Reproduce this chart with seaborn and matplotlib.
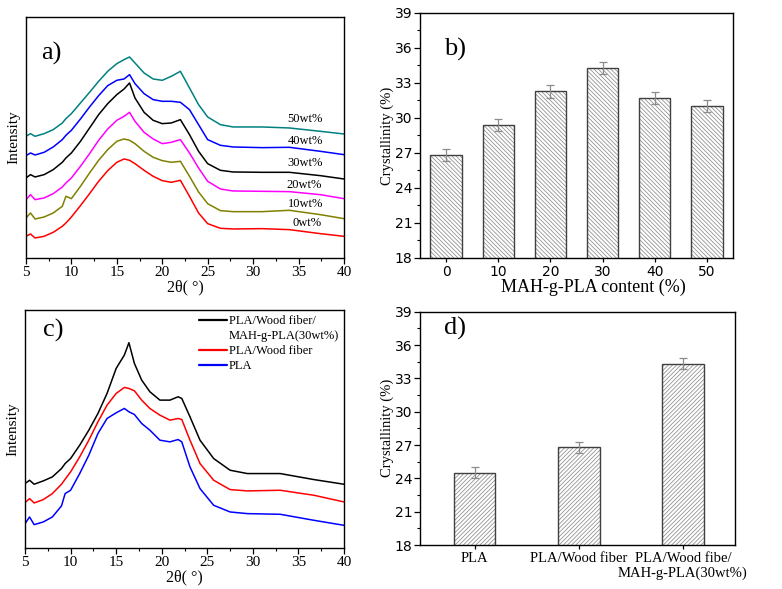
import numpy as np
import pandas as pd
import matplotlib
matplotlib.use("Agg")
import matplotlib.pyplot as plt
import seaborn as sns
from matplotlib.ticker import MultipleLocator, NullLocator
from matplotlib.patches import Rectangle
from matplotlib.lines import Line2D

# ---------------- Data: panel a (XRD, MAH-g-PLA content series, offset stacked) ----------------
two_theta_a = [5, 5.5, 6, 7, 8, 9, 9.4, 10, 11, 12, 13, 14, 15, 15.8, 16.4, 17, 18, 19, 20,
               21, 22, 23, 24, 25, 26.4, 27.8, 31, 34, 37.4, 40]
int_0wt = [65, 72, 60, 65, 77, 95, 105, 123, 157, 193, 230, 262, 287, 297, 293, 283, 263, 245, 232,
           227, 233, 185, 135, 103, 89, 87, 88, 85, 73, 65]
int_10wt = [120, 135, 117, 123, 135, 155, 185, 178, 215, 255, 293, 325, 350, 357, 353, 343, 320, 302, 292,
            287, 290, 245, 198, 163, 142, 139, 139, 143, 130, 118]
int_20wt = [175, 190, 175, 180, 193, 213, 225, 240, 275, 313, 353, 387, 413, 425, 437, 410, 377, 357, 343,
            347, 355, 315, 270, 230, 207, 201, 200, 199, 190, 178]
int_30wt = [240, 250, 243, 250, 265, 287, 300, 315, 350, 390, 430, 463, 490, 507, 525, 480, 437, 413, 403,
            405, 415, 370, 320, 283, 263, 258, 257, 257, 247, 237]
int_40wt = [307, 315, 309, 317, 333, 355, 368, 383, 417, 453, 487, 517, 533, 537, 550, 523, 493, 475, 470,
            470, 467, 445, 400, 355, 338, 333, 331, 332, 320, 310]
int_50wt = [365, 373, 365, 373, 385, 405, 418, 433, 465, 497, 530, 560, 583, 595, 603, 585, 555, 537, 533,
            545, 560, 510, 460, 423, 400, 393, 393, 390, 380, 372]
samples_a = ["0wt%", "10wt%", "20wt%", "30wt%", "40wt%", "50wt%"]
colors_a = ["#ff0000", "#808000", "#ff00ff", "#000000", "#0000ff", "#008080"]

# ---------------- Data: panel b ----------------
content_b = ["0", "10", "20", "30", "40", "50"]
cryst_b = [26.8, 29.4, 32.3, 34.3, 31.7, 31.0]
err_b = [0.5, 0.55, 0.55, 0.5, 0.5, 0.5]

# ---------------- Data: panel c (XRD comparison) ----------------
two_theta_c = [5, 5.5, 6, 7, 8, 9, 9.4, 10, 11, 12, 13, 14, 15, 15.9, 16.4, 17, 17.8, 18.7, 19.8,
               20.9, 21.8, 22.2, 23.1, 24.2, 25.7, 27.5, 29.4, 33, 36.7, 40]
int_pla = [73, 93, 70, 78, 93, 126, 163, 173, 223, 278, 343, 388, 405, 418, 408, 400, 373, 353, 323,
           318, 325, 318, 243, 178, 128, 108, 103, 101, 83, 68]
int_pla_wf = [136, 148, 135, 145, 163, 191, 206, 228, 273, 323, 378, 428, 463, 481, 478, 471, 443, 418, 398,
              383, 388, 385, 323, 253, 203, 175, 171, 173, 158, 138]
int_pla_wf_mah = [193, 203, 191, 201, 213, 238, 253, 268, 308, 353, 403, 463, 538, 578, 615, 553, 503, 468, 443,
                  443, 453, 448, 393, 323, 268, 233, 223, 223, 205, 191]
samples_c = ["PLA/Wood fiber/\nMAH-g-PLA(30wt%)", "PLA/Wood fiber", "PLA"]
colors_c = ["#000000", "#ff0000", "#0000ff"]

# ---------------- Data: panel d ----------------
names_d = ["PLA", "PLA/Wood fiber", "PLA/Wood fibe/\nMAH-g-PLA(30wt%)"]
cryst_d = [24.5, 26.8, 34.3]
err_d = [0.5, 0.5, 0.5]

# ---------------- Style ----------------
sns.set_theme(style="ticks")
plt.rcParams["font.family"] = ["Liberation Serif", "DejaVu Serif"]
plt.rcParams["axes.edgecolor"] = "black"
plt.rcParams["axes.linewidth"] = 1.0
plt.rcParams["text.color"] = "black"
plt.rcParams["axes.labelcolor"] = "black"
plt.rcParams["xtick.color"] = "black"
plt.rcParams["ytick.color"] = "black"
plt.rcParams["hatch.linewidth"] = 0.55

SERIF = ["Liberation Serif", "DejaVu Serif"]
SANS = ["DejaVu Sans"]

fig = plt.figure(figsize=(7.82, 5.89), dpi=100)
fig.patch.set_facecolor("white")

ax_a = fig.add_axes([0.0332, 0.5620, 0.4066, 0.4092])
ax_b = fig.add_axes([0.5371, 0.5620, 0.4003, 0.4160])
ax_c = fig.add_axes([0.0320, 0.0696, 0.4079, 0.4041])
ax_d = fig.add_axes([0.5375, 0.0747, 0.4024, 0.3961])


def xrd_axes(ax):
    ax.set_xlim(5, 40)
    ax.xaxis.set_major_locator(MultipleLocator(5))
    ax.xaxis.set_minor_locator(MultipleLocator(2.5))
    ax.yaxis.set_major_locator(NullLocator())
    ax.yaxis.set_minor_locator(NullLocator())
    ax.tick_params(axis="x", which="major", direction="out", length=4, width=0.9,
                   labelsize=11, pad=2, top=False)
    ax.tick_params(axis="x", which="minor", direction="out", length=2, width=0.8, top=False)
    for lab in ax.get_xticklabels():
        lab.set_family(SERIF)
    ax.set_xlabel("2θ( °)", fontsize=11.5, family=SERIF, labelpad=0)
    ax.set_ylabel("Intensity", fontsize=11, family=SERIF, labelpad=4)


# ---------------- Panel a ----------------
series_a = [int_0wt, int_10wt, int_20wt, int_30wt, int_40wt, int_50wt]
df_a = pd.concat([pd.DataFrame({"two_theta": two_theta_a, "intensity": vals, "sample": s})
                  for s, vals in zip(samples_a, series_a)], ignore_index=True)
sns.lineplot(data=df_a, x="two_theta", y="intensity", hue="sample", hue_order=samples_a,
             palette=colors_a, estimator=None, sort=False, legend=False, linewidth=1.1, ax=ax_a)
ax_a.set_ylim(0, 723)
xrd_axes(ax_a)
label_pos_a = [(34.3, 105), (33.8, 162), (33.7, 220), (33.8, 284), (33.8, 352), (33.8, 418)]
for s, (lx, ly) in zip(samples_a, label_pos_a):
    ax_a.text(lx, ly, s, fontsize=9, family=SERIF, ha="left", va="center")
ax_a.text(0.049, 0.85, "a)", transform=ax_a.transAxes, fontsize=19, family=SERIF,
          ha="left", va="center")

# ---------------- Panel c ----------------
series_c = [int_pla_wf_mah, int_pla_wf, int_pla]
df_c = pd.concat([pd.DataFrame({"two_theta": two_theta_c, "intensity": vals, "sample": s})
                  for s, vals in zip(samples_c, series_c)], ignore_index=True)
sns.lineplot(data=df_c, x="two_theta", y="intensity", hue="sample", hue_order=samples_c,
             palette=colors_c, estimator=None, sort=False, legend=False, linewidth=1.1, ax=ax_c)
ax_c.set_ylim(0, 713)
xrd_axes(ax_c)
handles = [Line2D([], [], color=colors_c[0], lw=1.6),
           Line2D([], [], color="none", lw=0),
           Line2D([], [], color=colors_c[1], lw=1.6),
           Line2D([], [], color=colors_c[2], lw=1.6)]
leg_labels = ["PLA/Wood fiber/", "MAH-g-PLA(30wt%)", "PLA/Wood fiber", "PLA"]
leg = ax_c.legend(handles, leg_labels, loc="upper right", bbox_to_anchor=(1.0, 1.0),
                  frameon=False, prop={"family": SERIF, "size": 9}, handlelength=2.25,
                  handletextpad=0.15, labelspacing=0.25, borderaxespad=0.2, borderpad=0.2)
ax_c.text(0.055, 0.915, "c)", transform=ax_c.transAxes, fontsize=19, family=SERIF,
          ha="left", va="center")


# ---------------- Bar panels ----------------
def bar_panel(ax, cats, vals, errs, width, hatch, xtick_family, xtick_size):
    df = pd.DataFrame({"cat": cats, "val": vals})
    sns.barplot(data=df, x="cat", y="val", order=cats, color="white", width=width,
                errorbar=None, edgecolor="#8c8c8c", linewidth=0, hatch=hatch, ax=ax)
    for p in list(ax.patches):
        p.set_facecolor("white")
        p.set_edgecolor("#8c8c8c")
        p.set_linewidth(0)
        ax.add_patch(Rectangle(p.get_xy(), p.get_width(), p.get_height(), fill=False,
                               edgecolor="#404040", linewidth=1.0, zorder=p.get_zorder() + 0.1))
    ax.errorbar(x=np.arange(len(cats)), y=vals, yerr=errs, fmt="none", ecolor="#8c8c8c",
                elinewidth=0.9, capsize=3, capthick=0.9, zorder=5)
    ax.set_ylim(18, 39)
    ax.set_xlim(-0.5, len(cats) - 0.5)
    ax.yaxis.set_major_locator(MultipleLocator(3))
    ax.yaxis.set_minor_locator(MultipleLocator(1.5))
    ax.tick_params(axis="y", which="major", direction="out", length=4, width=0.9,
                   labelsize=10, pad=1.5, right=False)
    ax.tick_params(axis="y", which="minor", direction="out", length=2, width=0.8, right=False)
    ax.tick_params(axis="x", which="major", direction="out", length=3, width=0.9,
                   labelsize=xtick_size, pad=2, top=False)
    for lab in ax.get_yticklabels():
        lab.set_family(SANS)
    for lab in ax.get_xticklabels():
        lab.set_family(xtick_family)
    ax.set_ylabel("Crystallinity (%)", fontsize=10.5, family=SERIF, labelpad=0.5)


bar_panel(ax_b, content_b, cryst_b, err_b, 0.6, "\\" * 8, SANS, 10)
ax_b.set_xlabel("MAH-g-PLA content (%)", fontsize=13, family=SERIF, labelpad=1)
ax_b.xaxis.set_label_coords(0.553, -0.085)
ax_b.text(0.076, 0.85, "b)", transform=ax_b.transAxes, fontsize=19, family=SERIF,
          ha="left", va="center")

bar_panel(ax_d, names_d, cryst_d, err_d, 0.4, "/" * 8, SERIF, 10.5)
ax_d.set_xlim(-0.52, 2.5)
ax_d.set_xlabel("")
ax_d.text(0.074, 0.93, "d)", transform=ax_d.transAxes, fontsize=19, family=SERIF,
          ha="left", va="center")

fig.savefig("out.png", dpi=100, facecolor="white")
